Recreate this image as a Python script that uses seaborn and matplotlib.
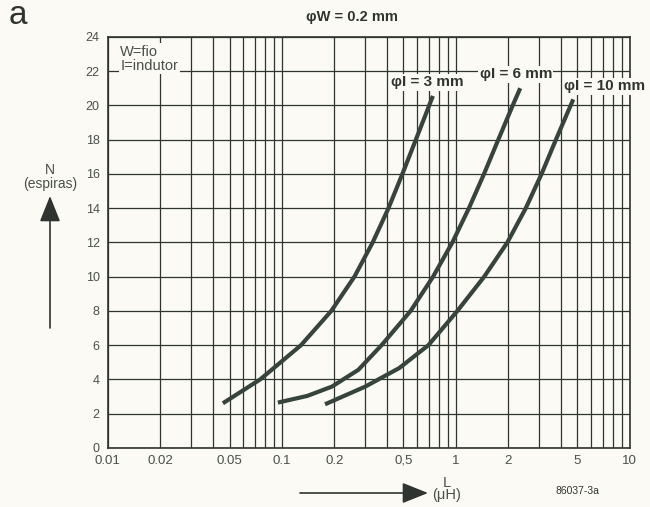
import numpy as np
import pandas as pd
import matplotlib
matplotlib.use('Agg')
import matplotlib.pyplot as plt
from matplotlib.ticker import FixedLocator, LogLocator, NullFormatter
import seaborn as sns

# curves: inductance L (uH) vs number of turns N
L_3mm = [0.0458, 0.075, 0.1288, 0.1923, 0.2612, 0.3327, 0.410, 0.493, 0.589, 0.703, 0.738]
N_3mm = [2.61, 4, 6, 8, 10, 12, 14, 16, 18, 20, 20.55]
L_6mm = [0.0948, 0.14, 0.1936, 0.275, 0.374, 0.5495, 0.7396, 0.955, 1.189, 1.452, 1.754, 2.123, 2.344]
N_6mm = [2.65, 3.04, 3.58, 4.56, 6, 8, 10, 12, 14, 16, 18, 20, 21.0]
L_10mm = [0.177, 0.301, 0.472, 0.695, 1.02, 1.455, 1.977, 2.523, 3.11, 3.76, 4.57, 4.73]
N_10mm = [2.55, 3.58, 4.66, 6, 8, 10, 12, 14, 16, 18, 20, 20.35]

x_ticks = [0.01, 0.02, 0.05, 0.1, 0.2, 0.5, 1, 2, 5, 10]
x_labels = ['0.01', '0.02', '0.05', '0.1', '0.2', '0,5', '1', '2', '5', '10']
y_ticks = list(range(0, 25, 2))

sns.set_style("white")
plt.rcParams['font.family'] = ['Liberation Sans', 'DejaVu Sans']

bg = '#fbfaf4'
ink = '#2f3431'
soft = '#4a4f4c'
curve_col = '#36443d'

fig = plt.figure(figsize=(6.5, 5.07), dpi=100, facecolor=bg)
ax = fig.add_axes([0.166, 0.1164, 0.803, 0.811])
ax.set_facecolor(bg)

curves = pd.concat([
    pd.DataFrame({'L': L_3mm, 'N': N_3mm, 'd': '3'}),
    pd.DataFrame({'L': L_6mm, 'N': N_6mm, 'd': '6'}),
    pd.DataFrame({'L': L_10mm, 'N': N_10mm, 'd': '10'}),
], ignore_index=True)

ax.set_xscale('log')
sns.lineplot(data=curves, x='L', y='N', units='d', estimator=None, sort=False,
             color=curve_col, linewidth=3, ax=ax, zorder=5)
for line in ax.lines:
    line.set_solid_capstyle('butt')
    line.set_solid_joinstyle('round')

ax.set_xlim(0.01, 10)
ax.set_ylim(0, 24)
ax.xaxis.set_major_locator(FixedLocator(x_ticks))
ax.set_xticks(x_ticks)
ax.set_xticklabels(x_labels)
ax.xaxis.set_minor_locator(LogLocator(base=10, subs=np.arange(2, 10)))
ax.xaxis.set_minor_formatter(NullFormatter())
ax.set_yticks(y_ticks)
ax.grid(True, which='both', axis='x', color=ink, linewidth=0.9)
ax.grid(True, which='major', axis='y', color=ink, linewidth=0.9)
for s in ax.spines.values():
    s.set_color(ink)
    s.set_linewidth(1.2)
ax.tick_params(axis='both', which='both', colors=soft, labelsize=9.5, length=0, pad=5)
ax.tick_params(axis='y', length=4, width=0.9, direction='out', pad=2, labelsize=9)
ax.set_xlabel('')
ax.set_ylabel('')

box = dict(facecolor=bg, edgecolor='none', pad=1)
ax.text(0.681, 21.35, 'φI = 3 mm', fontsize=11, fontweight='bold', color=ink,
        ha='center', va='center', bbox=box, zorder=6)
ax.text(2.21, 21.8, 'φI = 6 mm', fontsize=11, fontweight='bold', color=ink,
        ha='center', va='center', bbox=box, zorder=6)
ax.text(7.18, 21.1, 'φI = 10 mm', fontsize=11, fontweight='bold', color=ink,
        ha='center', va='center', bbox=box, zorder=6)
ax.text(0.0118, 23.55, 'W=fio\nI=indutor', fontsize=10.5, color=soft, ha='left', va='top',
        linespacing=1.0, bbox=box, zorder=6)

fig.text(352 / 650, 1 - 17 / 507, 'φW = 0.2 mm', fontsize=10.5, fontweight='bold',
         color=ink, ha='center', va='center')
fig.text(18 / 650, 1 - 16 / 507, 'a', fontsize=24, color=ink, ha='center', va='center')
fig.text(50 / 650, 1 - 177 / 507, 'N\n(espiras)', fontsize=10, color=soft, ha='center',
         va='center', linespacing=1.0)
fig.text(447 / 650, 1 - 489 / 507, 'L\n(μH)', fontsize=10.5, color=soft, ha='center',
         va='center', linespacing=0.85)
fig.text(577 / 650, 1 - 491 / 507, '86037-3a', fontsize=7.5, color=ink, ha='center', va='center')

arrow = dict(arrowstyle='-|>,head_length=1.0,head_width=0.4', color=ink, lw=1.2)
fig.add_artist(matplotlib.patches.FancyArrowPatch(
    (50 / 650, 1 - 328 / 507), (50 / 650, 1 - 196 / 507), transform=fig.transFigure,
    mutation_scale=16, shrinkA=0, shrinkB=0, **arrow))
fig.add_artist(matplotlib.patches.FancyArrowPatch(
    (300 / 650, 1 - 493 / 507), (428 / 650, 1 - 493 / 507), transform=fig.transFigure,
    mutation_scale=16, shrinkA=0, shrinkB=0, **arrow))

fig.savefig('out.png', dpi=100, facecolor=bg)
